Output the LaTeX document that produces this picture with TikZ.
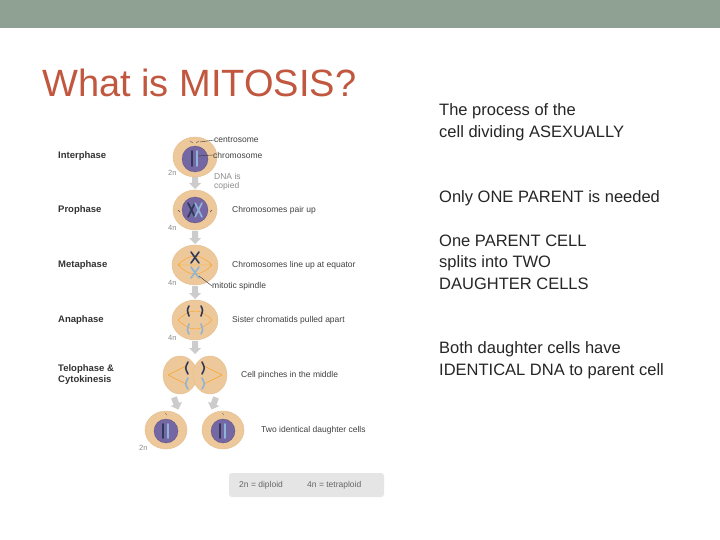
\documentclass[tikz,border=0pt]{standalone}
\usepackage{fontspec}
\setmainfont{Liberation Sans}
\begin{document}
\begin{tikzpicture}[x=1pt,y=-1pt,
  cell/.style={fill=cellc,draw=cellc!85!brown,line width=0.4pt},
  nuc/.style={fill=nucc,draw=nucc!80!black,line width=0.3pt},
  stage/.style={anchor=west,font=\fontsize{9.5}{11}\selectfont\bfseries,text=black!80,align=left,inner sep=0},
  desc/.style={anchor=west,font=\fontsize{8.5}{9.5}\selectfont,text=black!75,align=left,inner sep=0},
  small/.style={anchor=west,font=\fontsize{7.5}{8}\selectfont,text=black!45,inner sep=0},
  right/.style={anchor=west,font=\fontsize{16.5}{21.5}\selectfont,text=black!85,align=left,inner sep=0},
  garrow/.style={fill=black!20,draw=none},
  chrd/.style={line width=1.6pt,draw=chrdark,line cap=round},
  chrl/.style={line width=1.6pt,draw=chrlight,line cap=round},
  spin/.style={draw=orange!80!yellow,line width=0.3pt}]
\definecolor{cellc}{HTML}{EDC89A}
\definecolor{nucc}{HTML}{7467A3}
\definecolor{chrdark}{HTML}{2E3858}
\definecolor{chrlight}{HTML}{8EB4DA}
\definecolor{bar}{HTML}{8FA192}
\useasboundingbox (0,0) rectangle (720,540);
\fill[white] (0,0) rectangle (720,540);
\fill[bar] (0,0) rectangle (720,28);
\node[anchor=west,inner sep=0,font=\fontsize{38}{42}\selectfont,text={rgb,255:red,192;green,87;blue,62}] (title) at (42,83) {What is MITOSIS?};
% right texts
\node[right] (t1) at (439,122) {The process of the\\cell dividing ASEXUALLY};
\node[right] (t2) at (439,198) {Only ONE PARENT is needed};
\node[right] (t3) at (439,262) {One PARENT CELL\\splits into TWO\\DAUGHTER CELLS};
\node[right] (t4) at (439,360) {Both daughter cells have\\IDENTICAL DNA to parent cell};
% stage labels
\node[stage] (s1) at (58,156) {Interphase};
\node[stage] (s2) at (58,210) {Prophase};
\node[stage] (s3) at (58,265) {Metaphase};
\node[stage] (s4) at (58,320) {Anaphase};
\node[stage] (s5) at (58,375) {Telophase \&\\Cytokinesis};
% arrows
\foreach \y in {182,237,292,347}{\fill[garrow] (192,\y-6) rectangle (198,\y+1) (189,\y+1) -- (201,\y+1) -- (195,\y+7) -- cycle;}
\begin{scope}[shift={(176,403)},rotate=20]\fill[garrow] (-3,-6) rectangle (3,1) (-6,1) -- (6,1) -- (0,7) -- cycle;\end{scope}
\begin{scope}[shift={(214,403)},rotate=-20]\fill[garrow] (-3,-6) rectangle (3,1) (-6,1) -- (6,1) -- (0,7) -- cycle;\end{scope}
% interphase
\path[cell] (195,157) ellipse (22 and 20);
\path[nuc] (195,159) circle (13);
\draw[chrd] (192,151) -- (192,166); \draw[chrl] (197,151) -- (197,166);
\draw[black!70,line width=0.3pt] (190,141) -- (193,143) (196,143) -- (199,141);
\draw[black!80,line width=0.4pt] (200,142) -- (214,140);
\node[desc] (cen) at (214,140) {centrosome};
\draw[black!80,line width=0.4pt] (198,156) -- (213,155);
\node[desc] (chr) at (213,155) {chromosome};
\node[small] at (168,173) {2n};
\node[desc,text=black!45] at (214,182) {DNA is\\copied};
% prophase
\path[cell] (195,210) ellipse (22 and 20);
\path[nuc] (195,210) circle (13);
\draw[chrd] (188,203) -- (195,217) (195,203) -- (188,217);
\draw[chrl] (195,203) -- (202,217) (202,203) -- (195,217);
\draw[black!70,line width=0.4pt] (178,210) -- (180,212) (210,212) -- (212,210);
\node[desc] at (232,210) {Chromosomes pair up};
\node[small] at (168,228) {4n};
% metaphase
\path[cell] (195,265) ellipse (23 and 20);
\draw[spin] (178,265) .. controls (190,253) and (200,253) .. (212,265) .. controls (200,277) and (190,277) .. (178,265) (178,265) -- (212,265);
\draw[chrd] (191,252) -- (199,263) (199,252) -- (191,263);
\draw[chrl] (191,267) -- (199,278) (199,267) -- (191,278);
\draw[black!80,line width=0.4pt] (199,276) -- (212,286);
\node[desc] at (212,286) {mitotic spindle};
\node[desc] at (232,265) {Chromosomes line up at equator};
\node[small] at (168,283) {4n};
% anaphase
\path[cell] (195,320) ellipse (23 and 20);
\draw[spin] (178,320) .. controls (190,308) and (200,308) .. (212,320) .. controls (200,332) and (190,332) .. (178,320);
\draw[chrd] (189,306) .. controls (187,310) .. (189,316) (201,306) .. controls (203,310) .. (201,316);
\draw[chrl] (189,324) .. controls (187,330) .. (189,334) (201,324) .. controls (203,330) .. (201,334);
\node[desc] at (232,320) {Sister chromatids pulled apart};
\node[small] at (168,338) {4n};
% telophase
\path[cell] (180,375) ellipse (17 and 19);
\path[cell] (210,375) ellipse (17 and 19);
\draw[spin] (168,375) -- (186,366) (168,375) -- (186,384) (222,375) -- (204,366) (222,375) -- (204,384);
\draw[chrd] (188,362) .. controls (185,368) .. (188,374); \draw[chrd] (202,362) .. controls (205,368) .. (202,374);
\draw[chrl] (188,378) .. controls (185,384) .. (188,389); \draw[chrl] (202,378) .. controls (205,384) .. (202,389);
\node[desc] at (241,375) {Cell pinches in the middle};
% daughters
\foreach \cx in {166,223}{
 \path[cell] (\cx,430) ellipse (21 and 19);
 \path[nuc] (\cx,431) circle (12);
 \draw[chrd] (\cx-3,424) -- (\cx-3,438); \draw[chrl] (\cx+2,424) -- (\cx+2,438);
 \draw[black!70,line width=0.3pt] (\cx-1,413) -- (\cx+1,415);}
\node[small] at (139,448) {2n};
\node[desc] at (261,430) {Two identical daughter cells};
% legend
\fill[black!10,rounded corners=3pt] (229,473) rectangle (384,497);
\node[desc,text=black!60] (l1) at (239,485) {2n = diploid};
\node[desc,text=black!60] (l2) at (307,485) {4n = tetraploid};
\end{tikzpicture}
\end{document}
